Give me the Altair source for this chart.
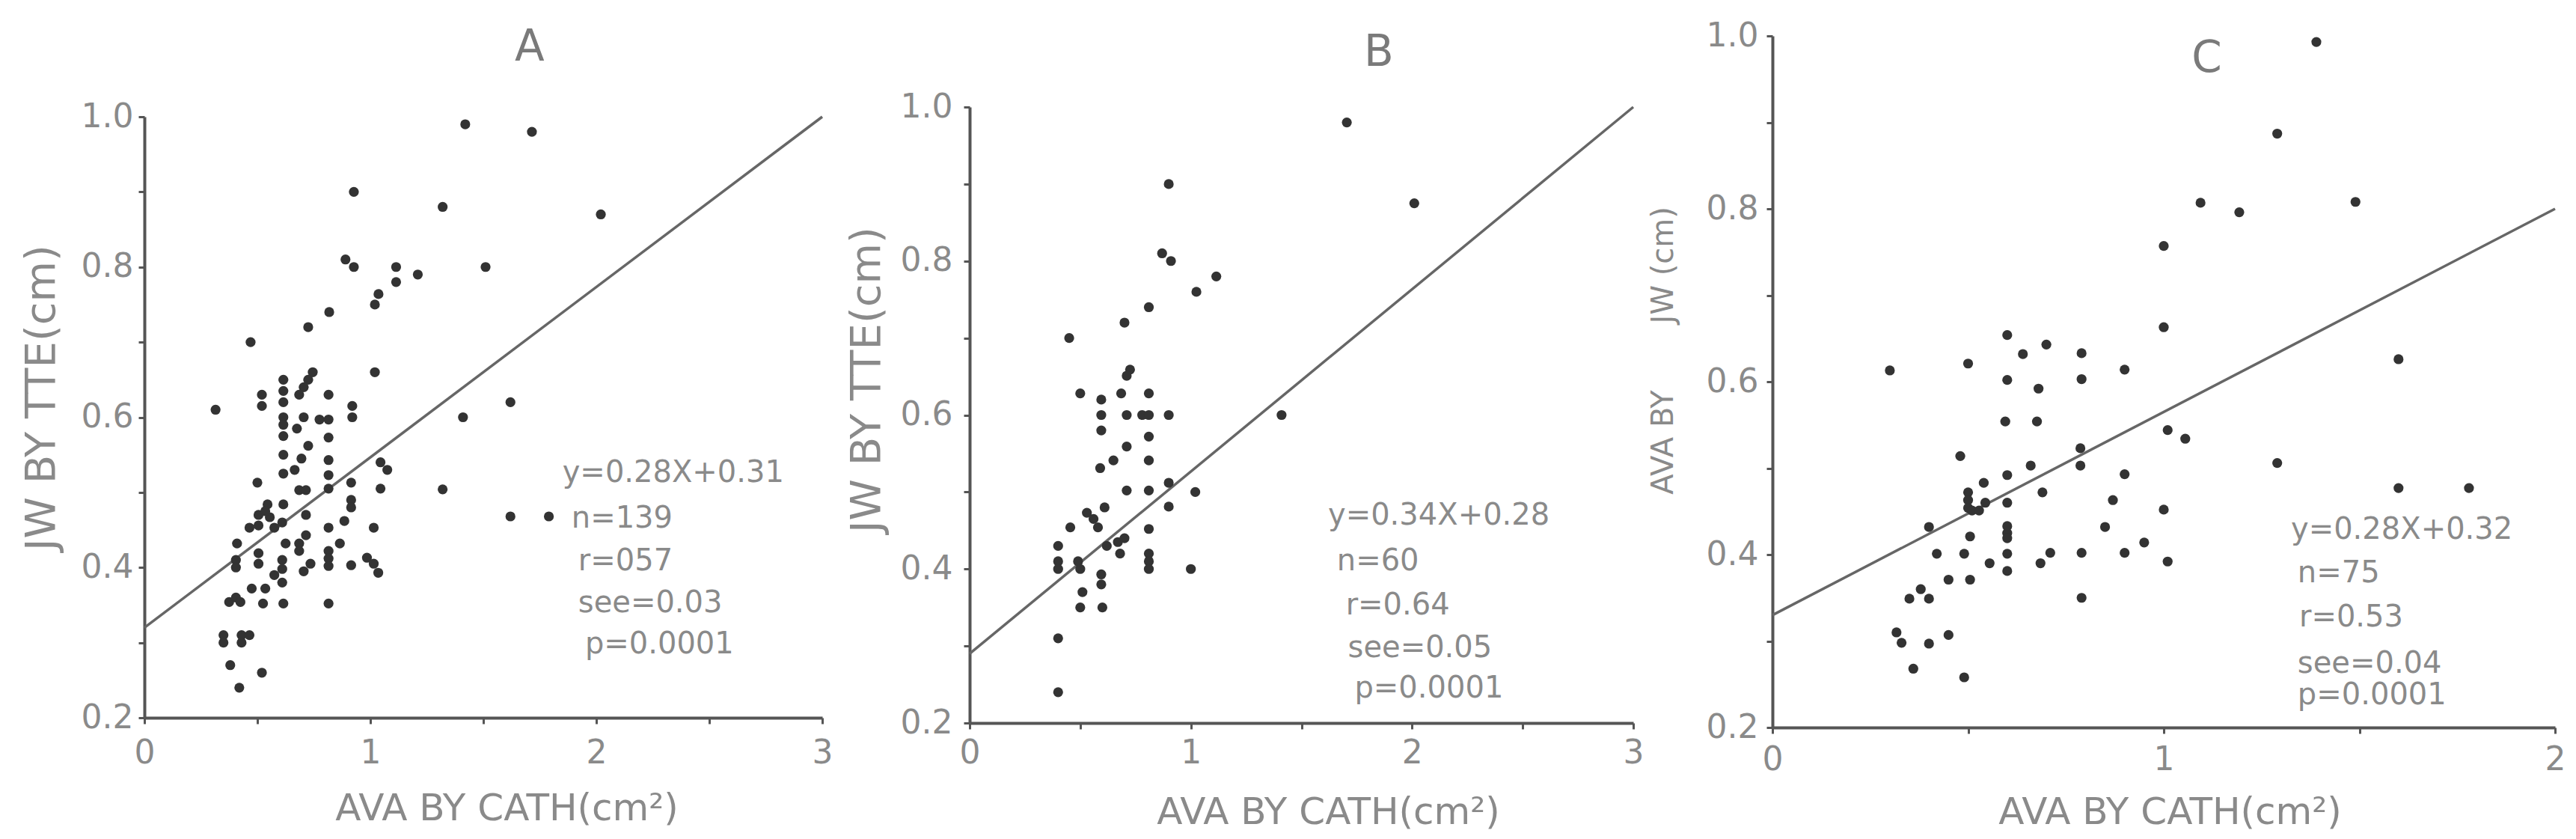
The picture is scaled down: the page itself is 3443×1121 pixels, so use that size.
import altair as alt
import pandas as pd

FONT = "DejaVu Sans"
LABEL_GRAY = "#8a8a8a"
AXIS_GRAY = "#555555"

# ---------------- Panel A data ----------------
a_x = [0.47, 1.02, 0.745, 0.725, 0.705, 0.685, 0.615, 0.615, 0.615, 0.52, 0.52, 0.815,
       0.92, 0.92, 0.315, 0.615, 0.615, 0.615, 0.705, 0.675, 0.775, 0.815, 0.815,
       0.615, 0.615, 0.725, 0.695, 0.665, 0.815, 0.815, 0.815, 0.50, 0.685, 0.715,
       0.915, 0.915, 0.915, 1.045, 1.075, 1.045, 0.615, 0.545, 0.505, 0.555, 0.465,
       0.505, 0.575, 0.61, 0.535, 0.715, 0.815, 0.885, 1.015, 0.41, 0.715, 0.625,
       0.685, 0.685, 0.865, 0.405, 0.405, 0.505, 0.505, 0.61, 0.61, 0.575, 0.61,
       0.815, 0.815, 0.815, 0.735, 0.705, 0.915, 0.985, 1.015, 1.035, 0.375, 0.405,
       0.425, 0.475, 0.535, 0.525, 0.615, 0.815, 0.35, 0.35, 0.43, 0.43, 0.465, 0.38,
       0.52, 0.42,
       1.42, 1.715, 0.927, 1.32, 2.02, 0.89, 0.927, 1.114, 1.114, 1.21, 1.51, 0.818,
       0.725, 1.036, 1.02, 1.62, 1.41, 1.32, 1.62, 1.79]
a_y = [0.70, 0.66, 0.66, 0.65, 0.64, 0.63, 0.65, 0.635, 0.62, 0.63, 0.615, 0.63,
       0.615, 0.60, 0.61, 0.60, 0.59, 0.575, 0.60, 0.585, 0.597, 0.597, 0.573,
       0.55, 0.525, 0.562, 0.545, 0.53, 0.543, 0.523, 0.505, 0.513, 0.503, 0.503,
       0.513, 0.49, 0.48, 0.54, 0.53, 0.505, 0.484, 0.484, 0.47, 0.467, 0.453,
       0.456, 0.453, 0.46, 0.475, 0.47, 0.453, 0.462, 0.453, 0.432, 0.443, 0.432,
       0.432, 0.422, 0.432, 0.41, 0.40, 0.419, 0.405, 0.41, 0.398, 0.39, 0.38,
       0.422, 0.412, 0.402, 0.405, 0.395, 0.403, 0.413, 0.405, 0.393, 0.354, 0.36,
       0.354, 0.372, 0.372, 0.352, 0.352, 0.352, 0.31, 0.30, 0.31, 0.30, 0.31, 0.27,
       0.26, 0.24,
       0.99, 0.98, 0.90, 0.88, 0.87, 0.81, 0.80, 0.80, 0.78, 0.79, 0.80, 0.74,
       0.72, 0.764, 0.75, 0.62, 0.60, 0.504, 0.468, 0.468]
a_line_x = [0, 3]
a_line_y = [0.32, 1.0]
a_ann_text = ["y=0.28X+0.31", "n=139", "r=057", "see=0.03", "p=0.0001"]
a_ann_x = [1.85, 1.89, 1.92, 1.92, 1.95]
a_ann_y = [0.526, 0.465, 0.408, 0.352, 0.298]

# ---------------- Panel B data ----------------
b_x = [0.725, 0.71, 0.50, 0.595, 0.685, 0.81, 0.595, 0.595, 0.71, 0.78, 0.81, 0.90,
       0.81, 0.71, 0.65, 0.59, 0.81, 0.71, 0.81, 0.90, 1.02, 0.90, 0.61, 0.53, 0.56,
       0.58, 0.455, 0.81, 0.40, 0.62, 0.67, 0.70, 0.68, 0.40, 0.40, 0.49, 0.50, 0.81,
       0.81, 0.81, 0.595, 0.595, 0.51, 0.50, 0.60, 0.40, 0.40, 1.0,
       1.705, 2.01, 0.90, 0.87, 0.91, 1.115, 1.025, 0.81, 0.70, 0.45, 1.41]
b_y = [0.659, 0.651, 0.628, 0.62, 0.628, 0.628, 0.60, 0.58, 0.60, 0.60, 0.60, 0.60,
       0.572, 0.559, 0.541, 0.531, 0.541, 0.502, 0.502, 0.512, 0.50, 0.481, 0.48,
       0.473, 0.465, 0.454, 0.454, 0.452, 0.43, 0.43, 0.435, 0.44, 0.42, 0.41, 0.40,
       0.41, 0.40, 0.42, 0.41, 0.40, 0.393, 0.38, 0.37, 0.35, 0.35, 0.31, 0.24, 0.40,
       0.98, 0.875, 0.90, 0.81, 0.80, 0.78, 0.76, 0.74, 0.72, 0.70, 0.60]
b_line_x = [0, 3]
b_line_y = [0.29, 1.0]
b_ann_text = ["y=0.34X+0.28", "n=60", "r=0.64", "see=0.05", "p=0.0001"]
b_ann_x = [1.62, 1.66, 1.70, 1.71, 1.74]
b_ann_y = [0.469, 0.41, 0.353, 0.297, 0.245]

# ---------------- Panel C data ----------------
c_x = [1.0, 0.60, 0.70, 0.64, 0.79, 0.50, 0.90, 0.30, 0.60, 0.79, 0.68, 0.595, 0.676,
       1.01, 1.055, 0.48, 0.787, 0.787, 0.66, 0.60, 0.90, 0.54, 0.69, 0.50, 0.50, 0.50,
       0.51, 0.528, 0.544, 0.60, 0.87, 1.0, 0.40, 0.85, 0.60, 0.60, 0.60, 0.505, 0.95,
       0.42, 0.49, 0.60, 0.71, 0.79, 0.90, 0.555, 0.685, 1.01, 0.60, 0.45, 0.505,
       0.379, 0.40, 0.35, 0.79, 0.317, 0.33, 0.40, 0.45, 0.36, 0.49,
       1.39, 1.29, 1.094, 1.193, 1.49, 1.0, 1.60, 1.29, 1.60, 1.78]
c_y = [0.663, 0.654, 0.643, 0.632, 0.633, 0.621, 0.614, 0.613, 0.602, 0.603, 0.592,
       0.554, 0.554, 0.544, 0.534, 0.514, 0.523, 0.503, 0.503, 0.492, 0.493, 0.483,
       0.472, 0.472, 0.463, 0.454, 0.451, 0.451, 0.46, 0.46, 0.463, 0.452, 0.432,
       0.432, 0.433, 0.425, 0.419, 0.421, 0.414, 0.401, 0.401, 0.401, 0.402, 0.402,
       0.402, 0.39, 0.39, 0.392, 0.381, 0.371, 0.371, 0.36, 0.349, 0.349, 0.35, 0.31,
       0.298, 0.297, 0.307, 0.268, 0.258,
       0.993, 0.887, 0.807, 0.796, 0.808, 0.757, 0.626, 0.506, 0.477, 0.477]
c_line_x = [0, 2]
c_line_y = [0.33, 0.80]
c_ann_text = ["y=0.28X+0.32", "n=75", "r=0.53", "see=0.04", "p=0.0001"]
c_ann_x = [1.325, 1.342, 1.346, 1.342, 1.342]
c_ann_y = [0.429, 0.378, 0.327, 0.274, 0.237]

x_title = "AVA BY CATH(cm²)"
y_title_ab = "JW BY TTE(cm)"
y_title_c = "AVA BY" + "\u00a0" * 7 + "JW (cm)"
y_ticks = [0.2, 0.3, 0.4, 0.5, 0.6, 0.7, 0.8, 0.9, 1.0]

W, H = 3427, 1105


def panel(px, py, lx, ly, ax_, ay_, at_, letter, letter_x, letter_y,
          xdom, xvals, xr, yr, xoff, yoff, xlabpad, ylabpad,
          xtx, xty, ytitle, ytx, yty, ytsize):
    xaxis = alt.Axis(
        orient="bottom", offset=xoff, values=xvals,
        labelExpr="datum.value % 1 == 0 ? format(datum.value, 'd') : ''",
        title=x_title, titleX=xtx, titleY=xty, titleBaseline="middle",
        titleAlign="center", titleFont=FONT, titleFontSize=50,
        titleFontWeight="normal", titleColor=LABEL_GRAY,
        labelFont=FONT, labelFontSize=44, labelColor=LABEL_GRAY,
        labelPadding=xlabpad, labelOverlap=False, labelFlush=False,
        tickSize=8, tickWidth=3, tickColor=AXIS_GRAY,
        domainColor=AXIS_GRAY, domainWidth=4, grid=False)
    yaxis = alt.Axis(
        orient="left", offset=yoff, values=y_ticks,
        labelExpr="abs(round(datum.value*10) % 2) == 0 ? format(datum.value, '.1f') : ''",
        title=ytitle, titleX=ytx, titleY=yty, titleAngle=270,
        titleBaseline="middle", titleAlign="center", titleFont=FONT,
        titleFontSize=ytsize, titleFontWeight="normal", titleColor=LABEL_GRAY,
        labelFont=FONT, labelFontSize=44, labelColor=LABEL_GRAY,
        labelPadding=ylabpad, labelOverlap=False, labelFlush=False,
        tickSize=8, tickWidth=3, tickColor=AXIS_GRAY,
        domainColor=AXIS_GRAY, domainWidth=4, grid=False)
    xs = alt.Scale(domain=xdom, range=xr, nice=False, zero=False)
    ys = alt.Scale(domain=[0.2, 1.0], range=yr, nice=False, zero=False)
    X = alt.X("x:Q", scale=xs, axis=xaxis)
    Y = alt.Y("y:Q", scale=ys, axis=yaxis)

    pts = alt.Chart(pd.DataFrame({"x": px, "y": py})).mark_circle(
        size=175, color="#333333", opacity=1).encode(x=X, y=Y)
    line = alt.Chart(pd.DataFrame({"x": lx, "y": ly})).mark_line(
        color="#666666", strokeWidth=3.5).encode(x=X, y=Y)
    ann = alt.Chart(pd.DataFrame({"x": ax_, "y": ay_, "t": at_})).mark_text(
        align="left", baseline="middle", font=FONT, fontSize=40,
        color=LABEL_GRAY).encode(x=X, y=Y, text="t:N")
    ttl = alt.Chart(pd.DataFrame({"x": [letter_x], "y": [letter_y], "t": [letter]})).mark_text(
        align="center", baseline="middle", font=FONT, fontSize=58,
        color="#7a7a7a").encode(x=X, y=Y, text="t:N")
    return alt.layer(line, pts, ann, ttl)


pA = panel(a_x, a_y, a_line_x, a_line_y, a_ann_x, a_ann_y, a_ann_text,
           "A", 1.705, 1.092, [0, 3], [0, 0.5, 1, 1.5, 2, 2.5, 3],
           [185, 1091], [951, 148], -154, -185, 17, 7,
           669, 121, y_title_ab, -138, 523, 56)
pB = panel(b_x, b_y, b_line_x, b_line_y, b_ann_x, b_ann_y, b_ann_text,
           "B", 1.85, 1.07, [0, 3], [0, 0.5, 1, 1.5, 2, 2.5, 3],
           [1288, 2175], [958, 135], -147, -1288, 10, 15,
           1767, 119, y_title_ab, -138, 499, 56)
pC = panel(c_x, c_y, c_line_x, c_line_y, c_ann_x, c_ann_y, c_ann_text,
           "C", 1.11, 0.973, [0, 2], [0, 0.5, 1, 1.5, 2],
           [2361, 3407], [964, 40], -141, -2361, 13, 11,
           2892, 113, y_title_c, -146, 460, 40)

chart = alt.layer(pA, pB, pC).resolve_scale(
    x="independent", y="independent"
).resolve_axis(
    x="independent", y="independent"
).properties(
    width=W, height=H, padding=0,
    autosize=alt.AutoSizeParams(type="none"),
    background="white"
).configure_view(stroke=None)

chart.save("out.html", embed_options={"renderer": "svg", "actions": False})
